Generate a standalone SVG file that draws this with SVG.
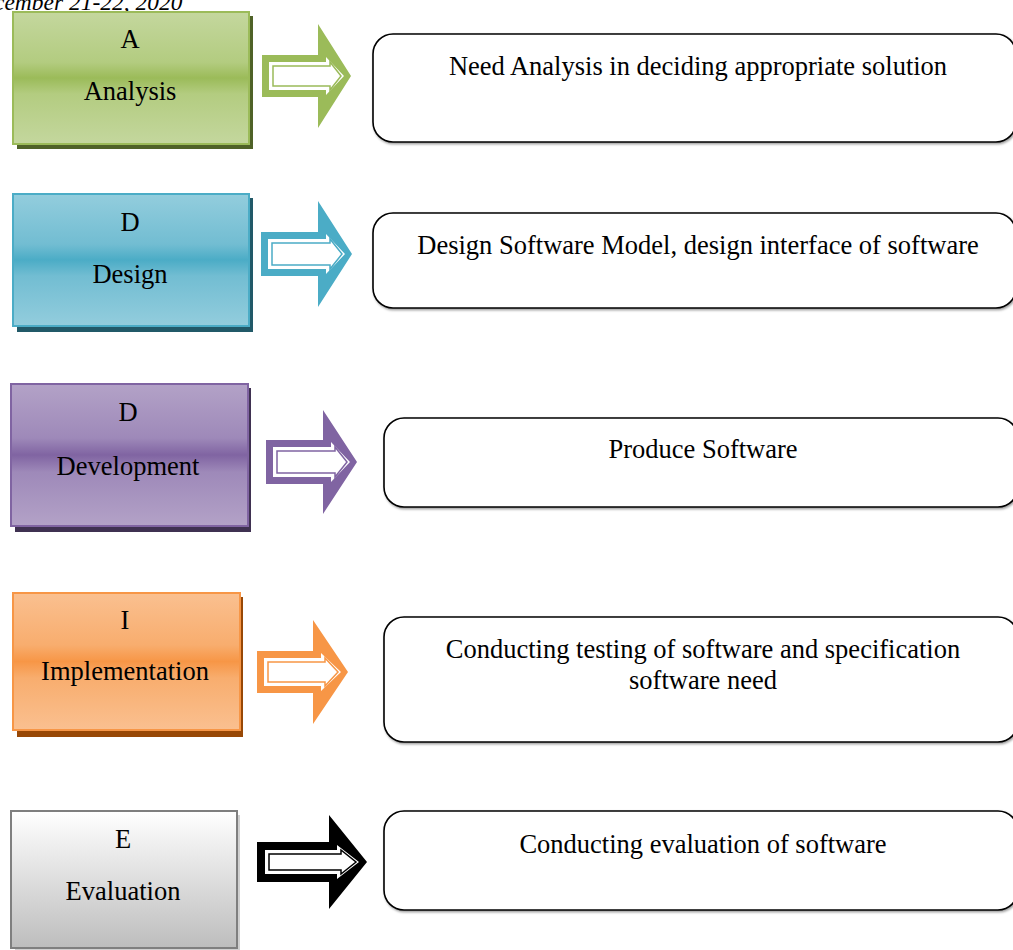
<svg xmlns="http://www.w3.org/2000/svg" width="1013" height="950" viewBox="0 0 1013 950">
  <style>
    .lbl { font-family: "Liberation Serif", "Times New Roman", serif; font-size: 26.5px; fill: #000; text-anchor: middle; }
    .hdr { font-family: "Liberation Serif", "Times New Roman", serif; font-size: 23.5px; font-style: italic; fill: #000; }
    .card { fill: #fff; stroke: #000; stroke-width: 1.6; filter: url(#soft); }
    .white { fill: #fff; }
    .thin { fill: #fff; stroke-width: 1.5; }
  </style>
  <defs>
    <filter id="soft" x="-5%" y="-5%" width="110%" height="120%">
      <feDropShadow dx="1" dy="1.5" stdDeviation="0.8" flood-color="#000" flood-opacity="0.4"/>
    </filter>
    <linearGradient id="gGreen" x1="0" y1="0" x2="0" y2="1">
      <stop offset="0" stop-color="#c4d79e"/>
      <stop offset="0.38" stop-color="#b3cc80"/>
      <stop offset="0.5" stop-color="#9bbb59"/>
      <stop offset="0.62" stop-color="#b3cc80"/>
      <stop offset="1" stop-color="#c4d79e"/>
    </linearGradient>
    <linearGradient id="gBlue" x1="0" y1="0" x2="0" y2="1">
      <stop offset="0" stop-color="#93cddd"/>
      <stop offset="0.38" stop-color="#72bdd2"/>
      <stop offset="0.5" stop-color="#4bacc6"/>
      <stop offset="0.62" stop-color="#72bdd2"/>
      <stop offset="1" stop-color="#93cddd"/>
    </linearGradient>
    <linearGradient id="gPurple" x1="0" y1="0" x2="0" y2="1">
      <stop offset="0" stop-color="#b3a2c7"/>
      <stop offset="0.38" stop-color="#9e89b9"/>
      <stop offset="0.5" stop-color="#8064a2"/>
      <stop offset="0.62" stop-color="#9e89b9"/>
      <stop offset="1" stop-color="#b3a2c7"/>
    </linearGradient>
    <linearGradient id="gOrange" x1="0" y1="0" x2="0" y2="1">
      <stop offset="0" stop-color="#fac090"/>
      <stop offset="0.38" stop-color="#f8ad6e"/>
      <stop offset="0.5" stop-color="#f79646"/>
      <stop offset="0.62" stop-color="#f8ad6e"/>
      <stop offset="1" stop-color="#fac090"/>
    </linearGradient>
    <linearGradient id="gGray" x1="0" y1="0" x2="0" y2="1">
      <stop offset="0" stop-color="#ffffff"/>
      <stop offset="1" stop-color="#bdbdbd"/>
    </linearGradient>
  </defs>

  <!-- running header, clipped at the left page edge -->
  <text class="hdr" x="-6" y="10">cember 21-22, 2020</text>

  <!-- phase boxes -->
  <g id="phase-analysis">
    <rect x="17" y="16" width="236" height="133" fill="#4f6228"/>
    <rect x="13" y="12" width="236" height="132" fill="url(#gGreen)" stroke="#9bbb59" stroke-width="2"/>
    <text class="lbl" x="130" y="48">A</text>
    <text class="lbl" x="130" y="100">Analysis</text>
  </g>
  <g id="phase-design">
    <rect x="17" y="198" width="236" height="134" fill="#215968"/>
    <rect x="13" y="194" width="236" height="132" fill="url(#gBlue)" stroke="#4bacc6" stroke-width="2"/>
    <text class="lbl" x="130" y="231">D</text>
    <text class="lbl" x="130" y="283">Design</text>
  </g>
  <g id="phase-development">
    <rect x="15" y="388" width="236" height="144" fill="#3f3151"/>
    <rect x="11" y="384" width="237" height="142" fill="url(#gPurple)" stroke="#8064a2" stroke-width="2"/>
    <text class="lbl" x="128" y="421">D</text>
    <text class="lbl" x="128" y="475">Development</text>
  </g>
  <g id="phase-implementation">
    <rect x="17" y="597" width="226" height="140" fill="#984806"/>
    <rect x="13" y="593" width="227" height="137" fill="url(#gOrange)" stroke="#f79646" stroke-width="2"/>
    <text class="lbl" x="125" y="629">I</text>
    <text class="lbl" x="125" y="680">Implementation</text>
  </g>
  <g id="phase-evaluation">
    <rect x="15" y="815" width="225" height="140" fill="#d0d0d0"/>
    <rect x="11" y="811" width="226" height="137" fill="url(#gGray)" stroke="#7f7f7f" stroke-width="2"/>
    <text class="lbl" x="123" y="848">E</text>
    <text class="lbl" x="123" y="900">Evaluation</text>
  </g>

  <!-- description cards -->
  <g id="desc-analysis">
    <rect class="card" x="373" y="34" width="643" height="108" rx="20"/>
    <text class="lbl" x="698" y="75">Need Analysis in deciding appropriate solution</text>
  </g>
  <g id="desc-design">
    <rect class="card" x="373" y="213" width="643" height="95" rx="20"/>
    <text class="lbl" x="698" y="254">Design Software Model, design interface of software</text>
  </g>
  <g id="desc-development">
    <rect class="card" x="384" y="418" width="634" height="89" rx="20"/>
    <text class="lbl" x="703" y="458">Produce Software</text>
  </g>
  <g id="desc-implementation">
    <rect class="card" x="384" y="617" width="634" height="125" rx="20"/>
    <text class="lbl" x="703" y="658">Conducting testing of software and specification</text>
    <text class="lbl" x="703" y="689">software need</text>
  </g>
  <g id="desc-evaluation">
    <rect class="card" x="384" y="811" width="634" height="99" rx="20"/>
    <text class="lbl" x="703" y="853">Conducting evaluation of software</text>
  </g>

  <!-- connectors: outlined block arrows -->
  <g id="connectors">
    <g id="arrow-analysis">
      <polygon points="262,55 318,55 318,24 351,76 318,128 318,97 262,97" fill="#9bbb59"/>
      <polygon class="white" points="269,62 326,62 326,57 344,76 326,95 326,90 269,90"/>
      <polygon class="thin" stroke="#9bbb59" points="273,66 330,66 330,62 341,76 330,90 330,86 273,86"/>
    </g>
    <g id="arrow-design">
      <polygon points="261,232 318,232 318,201 352,254 318,307 318,276 261,276" fill="#4bacc6"/>
      <polygon class="white" points="268,239 326,239 326,234 345,254 326,274 326,269 268,269"/>
      <polygon class="thin" stroke="#4bacc6" points="272,243 330,243 330,239 342,254 330,269 330,265 272,265"/>
    </g>
    <g id="arrow-development">
      <polygon points="266,440 323,440 323,410 357,462 323,514 323,484 266,484" fill="#8064a2"/>
      <polygon class="white" points="273,447 331,447 331,442 350,462 331,482 331,477 273,477"/>
      <polygon class="thin" stroke="#8064a2" points="277,451 335,451 335,447 347,462 335,477 335,473 277,473"/>
    </g>
    <g id="arrow-implementation">
      <polygon points="257,651 313,651 313,620 348,672 313,724 313,693 257,693" fill="#f79646"/>
      <polygon class="white" points="264,658 321,658 321,653 341,672 321,691 321,686 264,686"/>
      <polygon class="thin" stroke="#f79646" points="268,662 325,662 325,658 338,672 325,686 325,682 268,682"/>
    </g>
    <g id="arrow-evaluation">
      <polygon points="257,842 329,842 329,815 367,862 329,909 329,882 257,882" fill="#000"/>
      <polygon class="white" points="265,850 337,850 337,845 359,862 337,879 337,874 265,874"/>
      <polygon class="thin" stroke="#000" points="269,854 341,854 341,850 356,862 341,874 341,870 269,870"/>
    </g>
  </g>
</svg>
